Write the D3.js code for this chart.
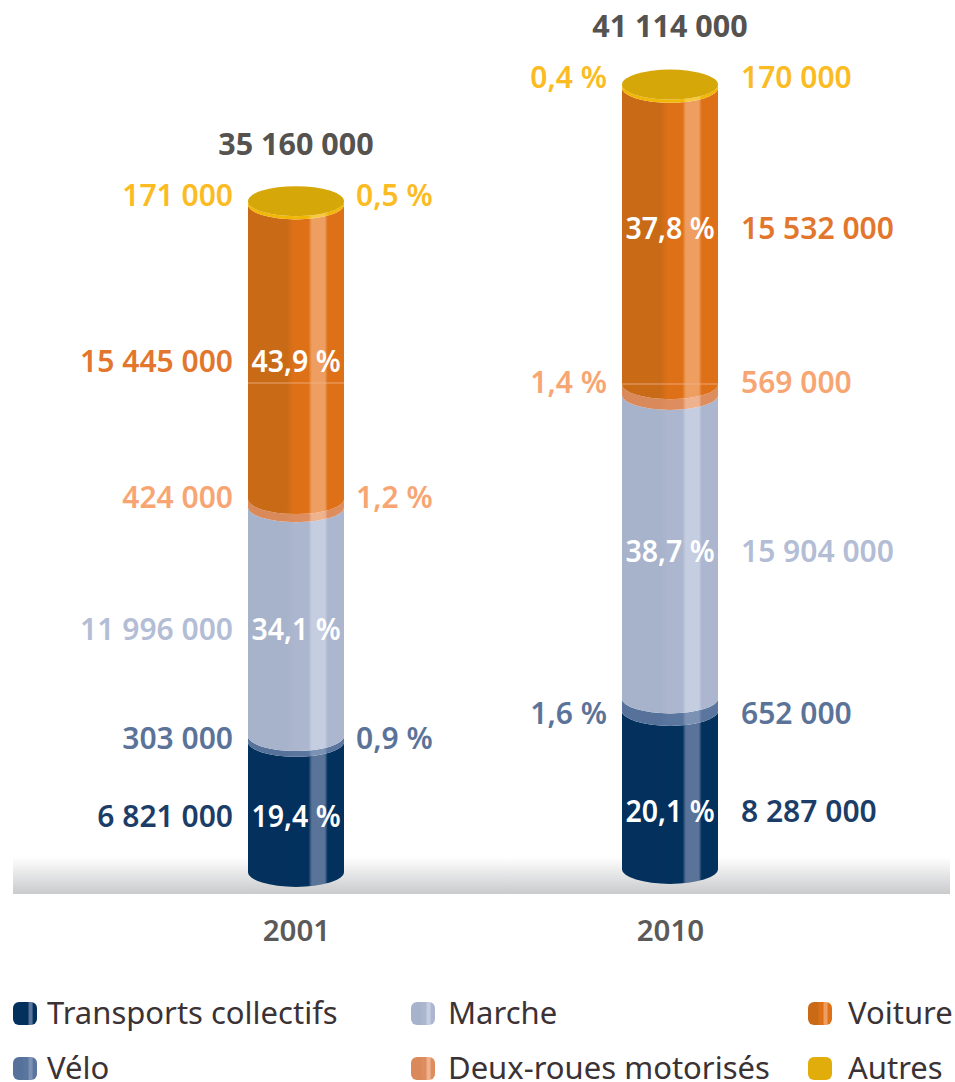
<!DOCTYPE html>
<html>
<head>
<meta charset="utf-8">
<script src="https://cdn.jsdelivr.net/npm/d3@7"></script>
<style>
  html, body { margin: 0; padding: 0; background: #fff; }
  svg { display: block; }
  text { font-family: "Noto Sans", sans-serif; }
</style>
</head>
<body>
<script>
const width = 955;
const height = 1082;

// Data, bottom of the cylinder first
const years = ["2001", "2010"];
const categories = ["Transports collectifs", "Vélo", "Marche", "Deux-roues motorisés", "Voiture", "Autres"];
const values2001 = [6821000, 303000, 11996000, 424000, 15445000, 171000];
const values2010 = [8287000, 652000, 15904000, 569000, 15532000, 170000];
const percent2001 = [19.4, 0.9, 34.1, 1.2, 43.9, 0.5];
const percent2010 = [20.1, 1.6, 38.7, 1.4, 37.8, 0.4];
const totals = [35160000, 41114000];

// Colours per category
const textColors = ["#1c3d68", "#5b7399", "#b3bdd5", "#f7a673", "#e2762c", "#fbbb22"];
const shades = [
  ["#03305c", "#03315e", "#5a7399"],
  ["#56719a", "#5a759e", "#7c92b5"],
  ["#a7b3cb", "#acb7cf", "#c5cee1"],
  ["#d9895a", "#dd8d5e", "#efb28f"],
  ["#c96a17", "#de7118", "#ee9e60"],
  ["#f2b705", "#f2b705", "#f7c93e"]
];

// Layout
const barRx = 48;
const barRy = 15;
const bases = [872, 869];
const seamY = [383, 384];
const labelY = [
  [816, 738, 629, 497, 361, 195],
  [811, 713, 551, 382, 228, 77]
];
const totalY = [144, 26];
const legendCols = [13, 411, 808];
const legendGaps = [34, 37, 40];
const legendRows = [1013, 1068];

const locale = d3.formatLocale({ decimal: ",", thousands: " ", grouping: [3], currency: ["", ""] });
const fmtValue = locale.format(",d");
const fmtPercent = p => locale.format(".1f")(p) + " %";

const svg = d3.select("body").append("svg")
  .attr("width", width)
  .attr("height", height)
  .attr("viewBox", [0, 0, width, height]);

const defs = svg.append("defs");

// Scales
const x = d3.scalePoint().domain(years).range([296, 670]);
const h = d3.scaleLinear().domain([0, 1000000]).range([0, 19.08]);

// Narrower glyphs for the labels inside the bars
function condense(sel, k) {
  sel.each(function () {
    d3.select(this)
      .attr("textLength", this.getComputedTextLength() * k)
      .attr("lengthAdjust", "spacingAndGlyphs");
  });
}

// Vertical-stripe shine of the cylinders
shades.forEach((s, i) => {
  const grad = defs.append("linearGradient").attr("id", "shade-" + i);
  [[0, s[0]], [0.4, s[0]], [0.48, s[1]], [0.63, s[1]], [0.665, s[2]],
   [0.8, s[2]], [0.83, s[1]], [1, s[1]]].forEach(d => {
    grad.append("stop").attr("offset", d[0]).attr("stop-color", d[1]);
  });
});

const ground = defs.append("linearGradient").attr("id", "ground")
  .attr("x1", 0).attr("x2", 0).attr("y1", 0).attr("y2", 1);
ground.append("stop").attr("offset", 0).attr("stop-color", "#ffffff");
ground.append("stop").attr("offset", 1).attr("stop-color", "#c9cacc");

// Floor band
svg.append("rect")
  .attr("x", 13).attr("y", 857)
  .attr("width", 937).attr("height", 37)
  .attr("fill", "url(#ground)");

function segments(values) {
  const table = [Object.fromEntries(categories.map((c, i) => [c, values[i]]))];
  return d3.stack().keys(categories)(table).map((s, i) => ({ index: i, y0: s[0][0], y1: s[0][1] }));
}

function segmentPath(cx, yTop, yBottom) {
  return `M${cx - barRx},${yTop}
    A${barRx},${barRy} 0 0 0 ${cx + barRx},${yTop}
    L${cx + barRx},${yBottom}
    A${barRx},${barRy} 0 0 1 ${cx - barRx},${yBottom}Z`;
}

years.forEach((year, yi) => {
  const values = yi === 0 ? values2001 : values2010;
  const percents = yi === 0 ? percent2001 : percent2010;
  const cx = x(year);
  const base = bases[yi];
  const g = svg.append("g").attr("class", "bar-" + year);

  // bottom to top, so each lower rim covers the segment below
  g.selectAll("path")
    .data(segments(values))
    .join("path")
    .attr("d", d => segmentPath(cx, base - h(d.y1), base - h(d.y0)))
    .attr("fill", d => `url(#shade-${d.index})`);

  // Lid of the cylinder
  g.append("ellipse")
    .attr("cx", cx)
    .attr("cy", base - h(d3.sum(values)))
    .attr("rx", barRx)
    .attr("ry", barRy)
    .attr("fill", "#d6a708");

  // Faint seam across the orange part
  g.append("line")
    .attr("x1", cx - barRx).attr("x2", cx + barRx)
    .attr("y1", seamY[yi]).attr("y2", seamY[yi])
    .attr("stroke", "#f0b48a")
    .attr("stroke-width", 0.8);

  // Counts on one side, shares on the other: sides swap between the years
  const valueLeft = yi === 0;
  const leftX = cx - 63;
  const rightX = cx + (yi === 0 ? 60 : 71);

  categories.forEach((c, i) => {
    const big = percents[i] > 10;

    g.append("text")
      .attr("x", valueLeft ? leftX : rightX)
      .attr("y", labelY[yi][i])
      .attr("dy", "0.35em")
      .attr("text-anchor", valueLeft ? "end" : "start")
      .attr("font-size", 30)
      .attr("font-weight", 600)
      .attr("fill", textColors[i])
      .text(fmtValue(values[i]));

    const pct = g.append("text")
      .attr("x", big ? cx : (valueLeft ? rightX : leftX))
      .attr("y", labelY[yi][i])
      .attr("dy", "0.35em")
      .attr("text-anchor", big ? "middle" : (valueLeft ? "start" : "end"))
      .attr("font-size", 30)
      .attr("font-weight", 600)
      .attr("fill", big ? "#ffffff" : textColors[i])
      .text(fmtPercent(percents[i]));
    if (big) pct.call(condense, 0.95);
  });

  g.append("text")
    .attr("x", cx)
    .attr("y", totalY[yi])
    .attr("dy", "0.35em")
    .attr("text-anchor", "middle")
    .attr("font-size", 30.5)
    .attr("font-weight", 700)
    .attr("fill", "#55524f")
    .text(fmtValue(totals[yi]));
});

// Year axis
const axis = svg.append("g")
  .attr("transform", "translate(0,913)")
  .call(d3.axisBottom(x).tickSize(0).tickPadding(0));
axis.select(".domain").remove();
axis.selectAll("text")
  .attr("dy", "0.95em")
  .attr("font-family", "Noto Sans")
  .attr("font-size", 29.5)
  .attr("font-weight", 600)
  .attr("fill", "#5c5a58");

// Legend, column by column
const legend = svg.append("g").attr("class", "legend");
categories.forEach((c, i) => {
  const col = Math.floor(i / 2);
  const lx = legendCols[col];
  const ly = legendRows[i % 2];
  legend.append("rect")
    .attr("x", lx)
    .attr("y", ly - 11)
    .attr("width", 24)
    .attr("height", 23)
    .attr("rx", 6)
    .attr("fill", i === 5 ? "#e0ad0a" : `url(#shade-${i})`);
  legend.append("text")
    .attr("x", lx + legendGaps[col])
    .attr("y", ly)
    .attr("dy", "0.35em")
    .attr("font-size", 31)
    .attr("fill", "#3b3235")
    .text(c);
});
</script>
</body>
</html>
